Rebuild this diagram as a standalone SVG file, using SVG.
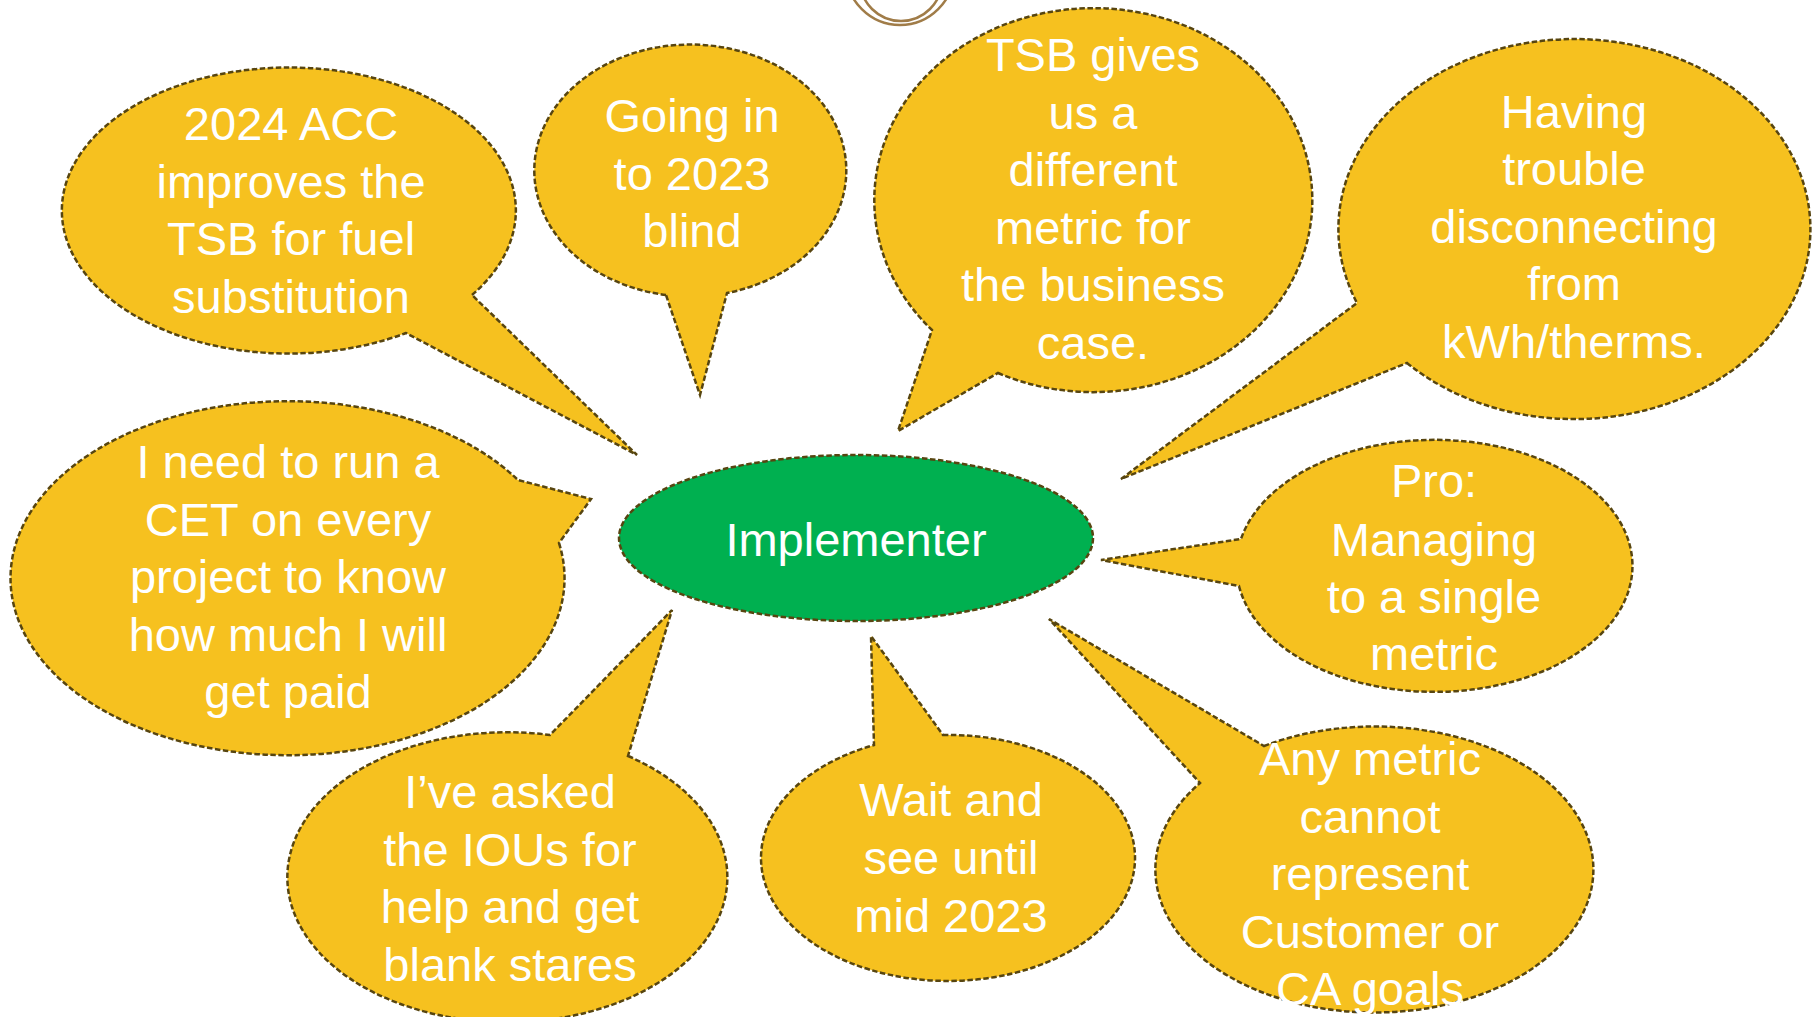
<svg xmlns="http://www.w3.org/2000/svg" width="1816" height="1017" viewBox="0 0 1816 1017">
  <style>
    .bubble { fill: #F6C11F; stroke: #574510; stroke-width: 2.5; stroke-dasharray: 5.5 2.5; stroke-linejoin: miter; }
    .hub { fill: #00B050; stroke: #574510; stroke-width: 2.5; stroke-dasharray: 5.5 2.5; }
    .label { font-family: "Liberation Sans", Arial, sans-serif; font-size: 47px; fill: #FFFFFF; text-anchor: middle; }
    .ring { fill: none; stroke: #A07C48; stroke-width: 2.5; }
  </style>

  <rect width="1816" height="1017" fill="#FFFFFF"/>

  <!-- decorative double ring at the top edge -->
  <g id="top-ring">
    <circle class="ring" cx="900" cy="-29" r="54"/>
    <circle class="ring" cx="901" cy="-20" r="41"/>
  </g>

  <!-- tails pointing at the hub are part of each bubble outline (ellipse arc + tail) -->
  <g id="connectors"></g>

  <g id="b-acc">
    <path class="bubble" d="M472,295 A227,143 0 1 0 406,333 L637,455 Z"/>
    <text class="label" x="291" y="140">2024 ACC</text>
    <text class="label" x="291" y="198">improves the</text>
    <text class="label" x="291" y="255">TSB for fuel</text>
    <text class="label" x="291" y="313">substitution</text>
  </g>

  <g id="b-blind">
    <path class="bubble" d="M666,295 A156,126 0 1 1 727,293 L700,395 Z"/>
    <text class="label" x="692" y="132">Going in</text>
    <text class="label" x="692" y="190">to 2023</text>
    <text class="label" x="692" y="247">blind</text>
  </g>

  <g id="b-tsb">
    <path class="bubble" d="M998,373 A219,192 0 1 0 932,330 L898,431 Z"/>
    <text class="label" x="1093" y="71">TSB gives</text>
    <text class="label" x="1093" y="128.5">us a</text>
    <text class="label" x="1093" y="186">different</text>
    <text class="label" x="1093" y="243.5">metric for</text>
    <text class="label" x="1093" y="301">the business</text>
    <text class="label" x="1093" y="358.5">case.</text>
  </g>

  <g id="b-kwh">
    <path class="bubble" d="M1407,363 A236,190 0 1 0 1357,303 L1121,479 Z"/>
    <text class="label" x="1574" y="128">Having</text>
    <text class="label" x="1574" y="185">trouble</text>
    <text class="label" x="1574" y="243">disconnecting</text>
    <text class="label" x="1574" y="300">from</text>
    <text class="label" x="1574" y="358">kWh/therms.</text>
  </g>

  <g id="b-cet">
    <path class="bubble" d="M559,543 A277,177 0 1 1 518,480 L591,499 Z"/>
    <text class="label" x="288" y="478">I need to run a</text>
    <text class="label" x="288" y="536">CET on every</text>
    <text class="label" x="288" y="593">project to know</text>
    <text class="label" x="288" y="651">how much I will</text>
    <text class="label" x="288" y="708">get paid</text>
  </g>

  <g id="b-ious">
    <path class="bubble" d="M628,756 A220,145 0 1 1 550,735 L672,610 Z"/>
    <text class="label" x="510" y="808">I’ve asked</text>
    <text class="label" x="510" y="866">the IOUs for</text>
    <text class="label" x="510" y="923">help and get</text>
    <text class="label" x="510" y="981">blank stares</text>
  </g>

  <g id="b-wait">
    <path class="bubble" d="M943,735 A187,123 0 1 1 874,745 L871,636 Z"/>
    <text class="label" x="951" y="816">Wait and</text>
    <text class="label" x="951" y="874">see until</text>
    <text class="label" x="951" y="932">mid 2023</text>
  </g>

  <g id="b-pro">
    <path class="bubble" d="M1239,586 A198,126 0 1 0 1241,539 L1101,560 Z"/>
    <text class="label" x="1434" y="497">Pro:</text>
    <text class="label" x="1434" y="556">Managing</text>
    <text class="label" x="1434" y="613">to a single</text>
    <text class="label" x="1434" y="670">metric</text>
  </g>

  <g id="b-any">
    <path class="bubble" d="M1264,746 A219,143 0 1 1 1200,783 L1049,619 Z"/>
    <text class="label" x="1370" y="775">Any metric</text>
    <text class="label" x="1370" y="833">cannot</text>
    <text class="label" x="1370" y="890">represent</text>
    <text class="label" x="1370" y="948">Customer or</text>
    <text class="label" x="1370" y="1005">CA goals</text>
  </g>

  <g id="hub">
    <ellipse class="hub" cx="856" cy="538" rx="237" ry="83"/>
    <text class="label" x="856" y="556">Implementer</text>
  </g>
</svg>
